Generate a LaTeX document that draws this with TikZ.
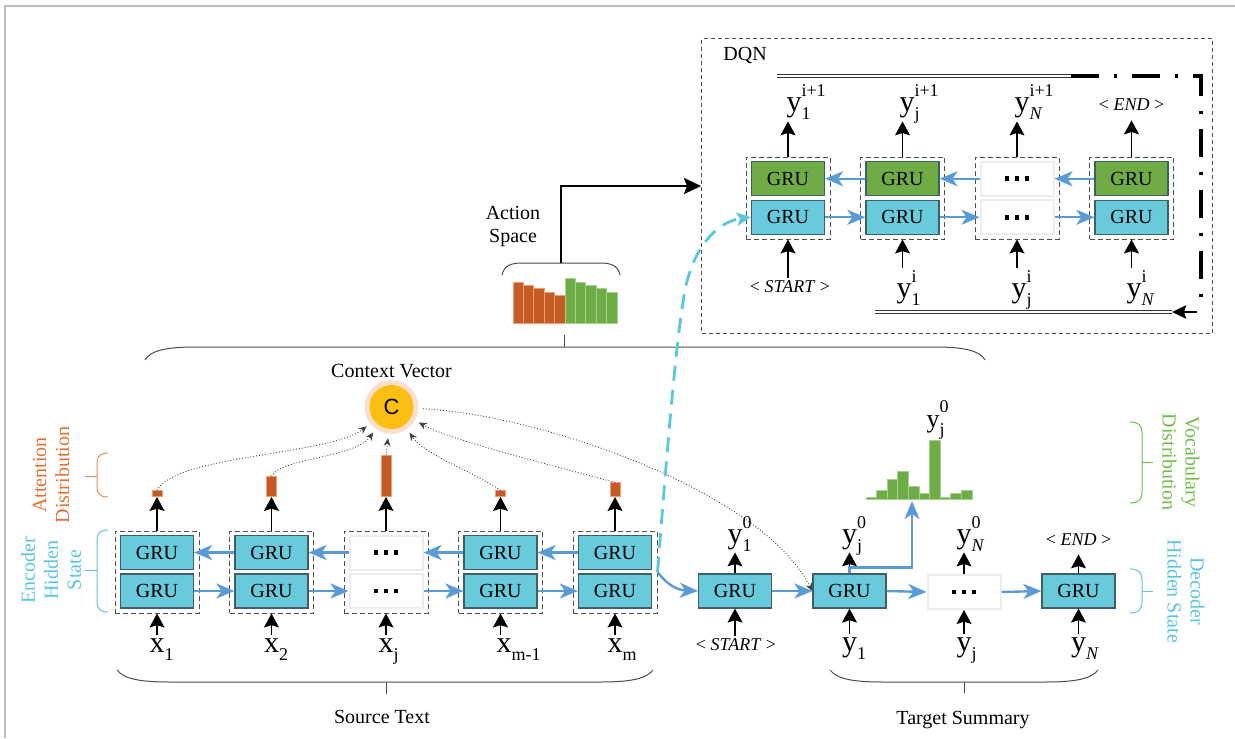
\documentclass[tikz,border=0pt]{standalone}
\usepackage{fontspec}
\setmainfont{Liberation Serif}
\newfontfamily\sansC{Liberation Sans}
\usetikzlibrary{arrows.meta,calc}
\definecolor{grucyan}{HTML}{68CADB}
\definecolor{grugreen}{HTML}{6FAC46}
\definecolor{gruborder}{HTML}{3E5F66}
\definecolor{arrblue}{HTML}{5B9BD5}
\definecolor{dashcyan}{HTML}{5CC6DD}
\definecolor{barorange}{HTML}{C55A24}
\definecolor{barorangeb}{HTML}{F0A070}
\definecolor{bargreen}{HTML}{6EAD45}
\definecolor{bargreenb}{HTML}{A8D08D}
\definecolor{txtorange}{HTML}{E07235}
\definecolor{txtgreen}{HTML}{70BD4A}
\definecolor{txtcyan}{HTML}{5CC4DE}
\definecolor{cyellow}{HTML}{FBBF13}
\definecolor{chalo}{HTML}{FAE0CC}
\definecolor{framegray}{HTML}{BDBDBD}
\definecolor{lgray}{HTML}{505050}
\newcommand{\scr}{\fontsize{9}{10}\selectfont}
\newlength{\labw}
\newcommand{\mylab}[3]{#1{\scr\setbox0\hbox{#2}\setbox2\hbox{#3}\labw=\wd0 \ifdim\wd2>\labw \labw=\wd2 \fi\rlap{\raisebox{7.5pt}{\box2}}\rlap{\raisebox{-4pt}{\box0}}\hspace{\labw}}}
\newcommand{\dotsq}{\rule{2.3pt}{2.3pt}\hspace{2.7pt}\rule{2.3pt}{2.3pt}\hspace{2.7pt}\rule{2.3pt}{2.3pt}}
\begin{document}
\begin{tikzpicture}[x=0.5pt,y=-0.5pt,
  gru/.style={draw=gruborder, line width=0.6pt, fill=grucyan, minimum width=36.5pt, minimum height=17pt, inner sep=0pt, font=\fontsize{10}{12}\selectfont},
  grug/.style={gru, fill=grugreen},
  dotsbox/.style={draw=black!7, line width=1pt, fill=white, minimum width=36.5pt, minimum height=17pt, inner sep=0pt},
  colbox/.style={draw=lgray, dash pattern=on 2.5pt off 1.5pt, line width=0.5pt, minimum width=42pt, minimum height=41pt, inner sep=0pt},
  blk/.style={-{Stealth[length=7pt,width=7.5pt,inset=1.2pt]}, line width=0.6pt, black},
  barr/.style={-{Stealth[length=9pt,width=7.5pt,inset=2.5pt]}, line width=1.2pt, arrblue},
  dotc/.style={densely dotted, line width=0.45pt, black!75, -{Stealth[length=4pt,width=3.5pt]}},
  lab/.style={inner sep=1pt, font=\fontsize{15}{16}\selectfont},
  toplab/.style={lab, anchor=base, text depth=3.5pt},
  botlab/.style={lab, anchor=base},
  tag/.style={inner sep=1pt, font=\fontsize{9}{10}\selectfont\itshape},
  sidetxt/.style={font=\fontsize{10}{11.5}\selectfont, align=center, inner sep=0pt},
  attbar/.style={fill=barorange, draw=barorangeb, line width=0.3pt, minimum width=5pt, inner sep=0pt, anchor=south},
  brc/.style={line width=0.5pt, draw=black!70},
  dbl/.style={double=white, double distance=0.8pt, line width=0.5pt, draw=black!80}
]
\useasboundingbox (0,0) rectangle (1235,738);
\draw[framegray, line width=1pt] (5,738) -- (5,6) -- (1235,6);

% ---------------- encoder ----------------
\node[colbox] (eb1) at (157,572) {};
\node[colbox] (eb2) at (271.5,572) {};
\node[colbox] (eb3) at (386,572) {};
\node[colbox] (eb4) at (500.5,572) {};
\node[colbox] (eb5) at (615,572) {};
\node[gru] (et1) at (157,552.5) {GRU};
\node[gru] (ed1) at (157,591) {GRU};
\node[gru] (et2) at (271.5,552.5) {GRU};
\node[gru] (ed2) at (271.5,591) {GRU};
\node[dotsbox] (et3) at (386,552.5) {\dotsq};
\node[dotsbox] (ed3) at (386,591) {\dotsq};
\node[gru] (et4) at (500.5,552.5) {GRU};
\node[gru] (ed4) at (500.5,591) {GRU};
\node[gru] (et5) at (615,552.5) {GRU};
\node[gru] (ed5) at (615,591) {GRU};
\draw[barr] (et2.west) -- (et1.east);
\draw[barr] (et3.west) -- (et2.east);
\draw[barr] (et4.west) -- (et3.east);
\draw[barr] (et5.west) -- (et4.east);
\draw[barr] (ed1.east) -- (ed2.west);
\draw[barr] (ed2.east) -- (ed3.west);
\draw[barr] (ed3.east) -- (ed4.west);
\draw[barr] (ed4.east) -- (ed5.west);

% attention bars
\node[attbar, minimum height=3pt] (a1) at (157,497) {};
\node[attbar, minimum height=10pt] (a2) at (271.5,497) {};
\node[attbar, minimum height=20.5pt] (a3) at (386,497) {};
\node[attbar, minimum height=3pt] (a4) at (500.5,497) {};
\node[attbar, minimum height=7pt] (a5) at (615,497) {};
\foreach \i in {1,...,5} \draw[blk] (eb\i.north) -- (a\i.south);

% source labels
\node[botlab] (x1) at (157,652) {\mylab{x}{1}{}};
\node[botlab] (x2) at (271.5,652) {\mylab{x}{2}{}};
\node[botlab] (x3) at (386,652) {\mylab{x}{j}{}};
\node[botlab] (x4) at (504,652) {\mylab{x}{m-1}{}};
\node[botlab] (x5) at (615,652) {\mylab{x}{m}{}};
\foreach \i in {1,...,5} \draw[blk] (eb\i.south |- x\i.north) -- (eb\i.south);

% context vector
\node[circle, minimum size=31pt, inner sep=0pt] (cv) at (391.5,407) {};
\node[circle, fill=chalo, minimum size=27pt, inner sep=0pt] (cvh) at (cv.center) {};
\node[circle, fill=cyellow, minimum size=22pt, inner sep=0pt, font=\sansC\fontsize{11}{11}\selectfont] (cvin) at (cv.center) {C};
\node[sidetxt, anchor=base] (cvt) at (391.5,377) {Context Vector};
\draw[dotc] (a1.north) .. controls (175,455) and (330,455) .. (cv);
\draw[dotc] (a2.north) .. controls (280,458) and (355,458) .. (cv);
\draw[dotc] (a3.north) -- (cv);
\draw[dotc] (a4.north) .. controls (470,470) and (425,455) .. (cv);
\draw[dotc] (a5.north) .. controls (540,462) and (450,440) .. (cv);

% ---------------- decoder ----------------
\node[gru] (dg1) at (735,591) {GRU};
\node[gru] (dg2) at (849.5,591) {GRU};
\node[dotsbox] (dg3) at (964,592) {\dotsq};
\node[gru] (dg4) at (1078.5,591) {GRU};
\draw[barr] (eb5.east) .. controls (665,582) and (675,590) .. (dg1.west);
\draw[barr] (dg1.east) -- (dg2.west);
\draw[barr] (dg2.east) -- (dg3.west);
\draw[barr] (dg3.east) -- (dg4.west);
\draw[dotc] (cv) .. controls (540,415) and (760,490) .. (dg2.west);

\node[toplab] (yo1) at (735,543) {\mylab{y}{1}{0}};
\node[toplab] (yo2) at (849.5,543) {\mylab{y}{j}{0}};
\node[toplab] (yo3) at (964,543) {\mylab{y}{\textit{N}}{0}};
\node[tag, anchor=base, text depth=3.5pt] (yo4) at (1078.5,545) {\upshape<~\textit{END}~>};
\foreach \i in {1,...,4} \draw[blk] (dg\i.north) -- (dg\i.north |- yo\i.south);

\node[tag, anchor=base] (yi1) at (736,650) {\upshape<~\textit{START}~>};
\node[botlab] (yi2) at (849.5,651) {\mylab{y}{1}{}};
\node[botlab] (yi3) at (964,651) {\mylab{y}{j}{}};
\node[botlab] (yi4) at (1078.5,651) {\mylab{y}{\textit{N}}{}};
\foreach \i in {1,...,4} \draw[blk] (dg\i.south |- yi\i.north) -- (dg\i.south);

% vocabulary distribution
\foreach \h [count=\i from 0] in {1.5,9,20,28,13,6,59,2,6,9}
  \draw[draw=bargreenb, fill=bargreen, line width=0.4pt] ({866+\i*10.6},499) rectangle ({866+(\i+1)*10.6},{499-\h});
\coordinate (vocabin) at (912,501);
\node[inner sep=1pt, anchor=base, font=\fontsize{13}{14}\selectfont] (yvj) at (933,427) {\mylab{y}{j}{0}};
\draw[barr] (dg2.north) -- ++(0,-6) -| (vocabin);

% ---------------- braces and side labels ----------------
\draw[brc] (145,360) .. controls (150,351) and (165,347) .. (195,347) -- (935,347) .. controls (965,347) and (980,351) .. (985,360);
\draw[brc] (564,347) -- (564,335);
\draw[brc] (117,670) .. controls (124,679) and (140,682) .. (170,682) -- (600,682) .. controls (630,682) and (646,679) .. (653,670);
\draw[brc] (386,682) -- (386,694);
\draw[brc] (830,670) .. controls (837,679) and (853,682) .. (883,682) -- (1045,682) .. controls (1075,682) and (1091,679) .. (1098,670);
\draw[brc] (964,682) -- (964,693);
\node[sidetxt] (srct) at (382,717) {Source Text};
\node[sidetxt] (tgtt) at (963,720) {Target Summary};

\draw[brc, draw=txtorange!80] (108,453) .. controls (100,453) and (97,456) .. (97,464) -- (97,486) .. controls (97,494) and (100,497) .. (108,497);
\draw[brc, draw=txtorange!80] (97,476) -- (85,476);
\draw[brc, draw=txtcyan] (108,530) .. controls (100,530) and (97,533) .. (97,541) -- (97,601) .. controls (97,609) and (100,612) .. (108,612);
\draw[brc, draw=txtcyan] (97,570) -- (85,570);
\node[sidetxt, rotate=90, text=txtorange] (attl) at (51,475) {Attention\\Distribution};
\node[sidetxt, rotate=90, text=txtcyan] (encl) at (51,570) {Encoder\\Hidden\\State};

\draw[brc, draw=txtgreen] (1130,422) .. controls (1138,422) and (1142,425) .. (1142,433) -- (1142,492) .. controls (1142,500) and (1138,503) .. (1130,503);
\draw[brc, draw=txtgreen] (1142,462) -- (1153,462);
\draw[brc, draw=txtcyan] (1130,569) .. controls (1138,569) and (1142,572) .. (1142,580) -- (1142,602) .. controls (1142,610) and (1138,613) .. (1130,613);
\draw[brc, draw=txtcyan] (1142,591) -- (1153,591);
\node[sidetxt, rotate=-90, text=txtgreen] (vocl) at (1181,462) {Vocabulary\\Distribution};
\node[sidetxt, rotate=-90, text=txtcyan] (decl) at (1186,591) {Decoder\\Hidden State};

% ---------------- action space ----------------
\foreach \t [count=\i from 0] in {282,285,288,292,295}
  \draw[draw=barorangeb, fill=barorange, line width=0.4pt] ({513+\i*10.4},323) rectangle ({513+(\i+1)*10.4},\t);
\foreach \t [count=\i from 5] in {278,282,285,288,292}
  \draw[draw=bargreenb, fill=bargreen, line width=0.4pt] ({513+\i*10.4},323) rectangle ({513+(\i+1)*10.4},\t);
\draw[brc] (502,275) .. controls (504,266) and (510,263) .. (522,263) -- (600,263) .. controls (612,263) and (618,266) .. (620,275);
\coordinate (asb) at (561,263);
\node[sidetxt] (act) at (513,226.5) {Action\\Space};

% ---------------- DQN ----------------
\node[draw=lgray, dash pattern=on 2pt off 1.5pt, line width=0.5pt, minimum width=255.25pt, minimum height=147pt, inner sep=0pt] (dqn) at (956.75,186) {};
\node[anchor=base west, inner sep=0pt, font=\fontsize{10}{12}\selectfont] (dqnt) at (723,61) {DQN};
\draw[line width=1.2pt, -{Stealth[length=8.5pt,width=8pt,inset=1.5pt]}] (asb) |- (dqn.west);

\node[colbox] (qb1) at (788,198) {};
\node[colbox] (qb2) at (902.5,198) {};
\node[colbox] (qb3) at (1017,198) {};
\node[colbox] (qb4) at (1131.5,198) {};
\node[grug] (qg1) at (788,178.75) {GRU};
\node[gru] (qc1) at (788,217.25) {GRU};
\node[grug] (qg2) at (902.5,178.75) {GRU};
\node[gru] (qc2) at (902.5,217.25) {GRU};
\node[dotsbox] (qg3) at (1017,178.75) {\dotsq};
\node[dotsbox] (qc3) at (1017,217.25) {\dotsq};
\node[grug] (qg4) at (1131.5,178.75) {GRU};
\node[gru] (qc4) at (1131.5,217.25) {GRU};
\draw[barr] (qg2.west) -- (qg1.east);
\draw[barr] (qg3.west) -- (qg2.east);
\draw[barr] (qg4.west) -- (qg3.east);
\draw[barr] (qc1.east) -- (qc2.west);
\draw[barr] (qc2.east) -- (qc3.west);
\draw[barr] (qc3.east) -- (qc4.west);

\node[toplab] (qy1) at (794,112) {\mylab{y}{1}{i+1}};
\node[toplab] (qy2) at (907,112) {\mylab{y}{j}{i+1}};
\node[toplab] (qy3) at (1022,112) {\mylab{y}{\textit{N}}{i+1}};
\node[tag, anchor=base, text depth=3.5pt] (qy4) at (1131.5,111) {\upshape<~\textit{END}~>};
\foreach \i in {1,...,4} \draw[blk] (qb\i.north) -- (qb\i.north |- qy\i.south);

\node[tag, anchor=base] (qx1) at (790,292) {\upshape<~\textit{START}~>};
\node[botlab] (qx2) at (904,297) {\mylab{y}{1}{i}};
\node[botlab] (qx3) at (1019,297) {\mylab{y}{j}{i}};
\node[botlab] (qx4) at (1134,297) {\mylab{y}{\textit{N}}{i}};
\foreach \i in {1,...,4} \draw[blk] (qb\i.south |- qx\i.north) -- (qb\i.south);

% loop
\coordinate (lt1) at (777,76);
\coordinate (lt2) at (1071,76);
\coordinate (lc1) at (1201,76);
\coordinate (lc2) at (1201,305);
\coordinate (lb1) at (1197,312);
\coordinate (lb2) at (1172,312);
\coordinate (lb3) at (875,312);
\draw[dbl] (lt1) -- (lt2);
\draw[line width=1.6pt, dash pattern=on 14pt off 7.5pt on 1.5pt off 7.5pt] (lt2) -- (lc1) -- (lc2);
\draw[line width=1.4pt, -{Stealth[length=7pt,width=6.5pt,inset=1pt]}] (lb1) -- (lb2);
\draw[dbl] (lb2) -- (lb3);

% dashed cyan link
\draw[dashcyan, line width=1.4pt, dash pattern=on 7.5pt off 4.5pt, -{Stealth[length=7pt,width=6.5pt,inset=1.5pt]}] (eb5.east) .. controls (668,440) and (676,340) .. (685,290) .. controls (693,250) and (715,222) .. (qc1.west);
\end{tikzpicture}
\end{document}
